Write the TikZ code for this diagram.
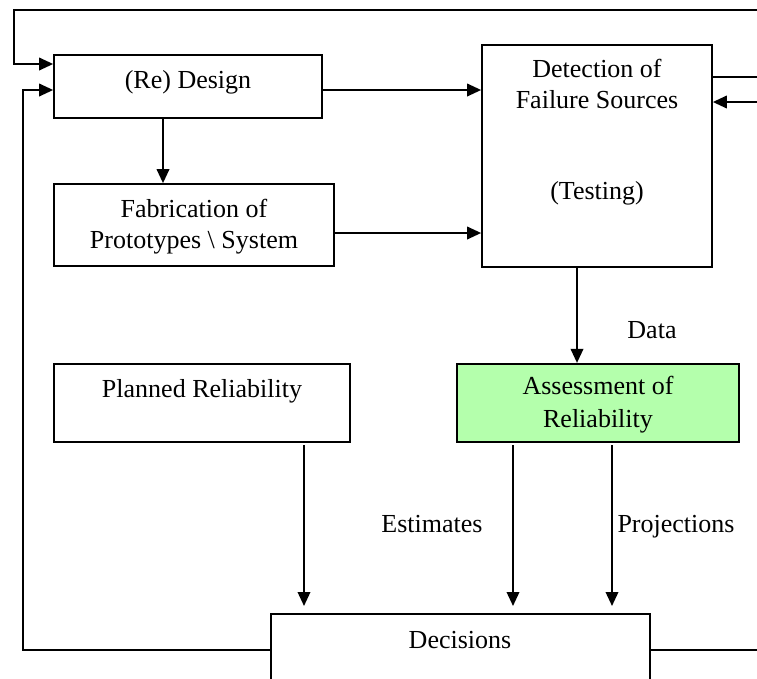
\documentclass[tikz,border=0pt]{standalone}
\usepackage{fontspec}
\setmainfont{Liberation Serif}
\usetikzlibrary{arrows.meta}
\definecolor{assessgreen}{RGB}{180,255,172}
\begin{document}
\begin{tikzpicture}[x=1pt,y=-1pt,
  every node/.style={font=\fontsize{26}{31}\selectfont},
  box/.style={draw, line width=1.7pt, rectangle, inner sep=0pt},
  lbl/.style={inner sep=0pt, align=center},
  conn/.style={line width=2pt},
  arr/.style={conn, -{Triangle[length=14pt,width=12.5pt]}}]
\clip (0,0) rectangle (757,678);

% boxes
\node[box, minimum width=268, minimum height=63] (design) at (188,86.5) {};
\node[box, minimum width=230, minimum height=222] (detect) at (597,156) {};
\node[box, minimum width=280, minimum height=82] (fab) at (194,225) {};
\node[box, minimum width=296, minimum height=78] (planned) at (202,403) {};
\node[box, fill=assessgreen, line width=2.2pt, minimum width=282, minimum height=78] (assess) at (598,403) {};
\node[box, minimum width=379, minimum height=92] (decide) at (460.5,660) {};

% texts
\node[lbl] (designtxt) at (188,82) {(Re) Design};
\node[lbl, anchor=north] (detecttxt) at (597,59) {Detection of\\Failure Sources};
\node[lbl] (testtxt) at (597,193) {(Testing)};
\node[lbl] (fabtxt) at (194,227) {Fabrication of\\Prototypes \textbackslash{} System};
\node[lbl] (plantxt) at (202,391) {Planned Reliability};
\node[lbl, font=\fontsize{26}{33}\selectfont] (assesstxt) at (598,405) {Assessment of\\Reliability};
\node[lbl] (dectxt) at (460,640) {Decisions};
\node[lbl] (datatxt) at (652,330) {Data};
\node[lbl] (esttxt) at (432,524) {Estimates};
\node[lbl] (projtxt) at (676,527) {Projections};

% free ends at the picture border
\coordinate (topright) at (757,10);
\coordinate (outA) at (757,77);
\coordinate (inA) at (757,102);
\coordinate (outB) at (757,650);

% feedback loops into the design box
\draw[arr] (topright) -- (14,10) -- (14,64) -- (design.west |- 0,64);
\draw[arr] (decide.west |- 0,650) -- (23,650) -- (23,90) -- (design.west |- 0,90);

% main flow
\draw[arr] (design.east |- 0,90) -- (detect.west |- 0,90);
\draw[arr] (design.south -| 163,0) -- (fab.north -| 163,0);
\draw[arr] (fab.east |- 0,233) -- (detect.west |- 0,233);
\draw[conn] (detect.east |- 0,77) -- (outA);
\draw[arr] (inA) -- (detect.east |- 0,102);
\draw[arr] (detect.south -| 577,0) -- (assess.north -| 577,0);

% into decisions
\draw[arr] (304,445) -- (304,606);
\draw[arr] (513,445) -- (513,606);
\draw[arr] (612,445) -- (612,606);
\draw[conn] (decide.east |- 0,650) -- (outB);
\end{tikzpicture}
\end{document}
